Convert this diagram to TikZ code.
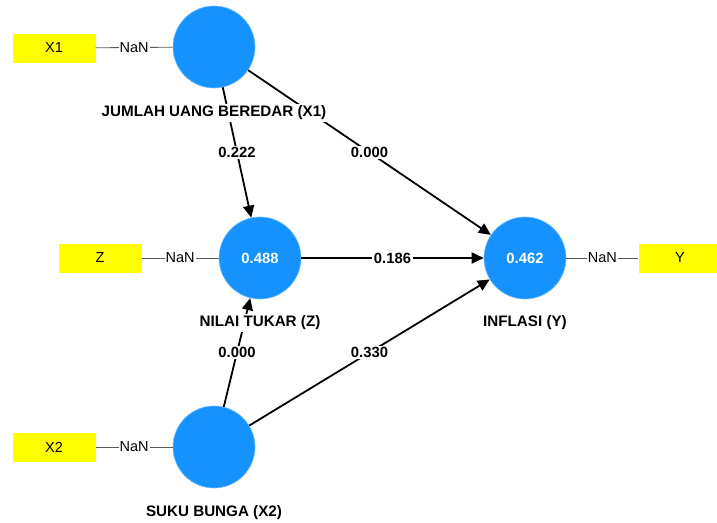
\documentclass[tikz,border=0pt]{standalone}
\usepackage{fontspec}
\setmainfont{Liberation Sans}
\usetikzlibrary{arrows.meta}
\definecolor{latblue}{RGB}{22,146,255}
\definecolor{indyel}{RGB}{255,255,0}
\definecolor{mline}{RGB}{90,90,90}
\begin{document}
\begin{tikzpicture}[x=1pt,y=-1pt,
  latent/.style={circle,fill=latblue,draw=latblue!60!white,line width=0.6pt,minimum size=82pt,inner sep=0pt,text=white,font=\bfseries\fontsize{14.8}{17}\selectfont},
  indic/.style={rectangle,fill=indyel,minimum width=83pt,minimum height=29pt,inner sep=0pt,font=\fontsize{14.5}{17}\selectfont},
  lvname/.style={fill=white,inner sep=1.5pt,font=\bfseries\fontsize{15.2}{17}\selectfont},
  path/.style={line width=1.8pt,-{Triangle[length=12pt,width=11pt]}},
  coef/.style={fill=white,inner sep=1.5pt,font=\bfseries\fontsize{14.8}{17}\selectfont},
  meas/.style={draw=mline,line width=0.8pt},
  nan/.style={fill=white,inner sep=1pt,font=\fontsize{14.5}{17}\selectfont}]
\useasboundingbox (0,0) rectangle (717,522);
\node[latent] (x1) at (214,47) {};
\node[latent] (z) at (260,258) {0.488};
\node[latent] (y) at (525,258) {0.462};
\node[latent] (x2) at (214,447) {};
\node[indic] (r1) at (54,48) {X1};
\node[indic] (rz) at (100,258) {Z};
\node[indic] (ry) at (680,258) {Y};
\node[indic] (r2) at (54,447) {X2};
\draw[meas] (r1) -- node[nan]{NaN} (x1);
\draw[meas] (rz) -- node[nan]{NaN} (z);
\draw[meas] (y) -- node[nan]{NaN} (ry);
\draw[meas] (r2) -- node[nan]{NaN} (x2);
\draw[path] (x1) -- node[coef]{0.222} (z);
\draw[path] (x1) -- node[coef]{0.000} (y);
\draw[path] (z) -- node[coef]{0.186} (y);
\draw[path] (x2) -- node[coef]{0.330} (y);
\draw[path] (x2) -- node[coef]{0.000} (z);
\node[lvname] (nx1) at (214,113) {JUMLAH UANG BEREDAR (X1)};
\node[lvname] (nz) at (260,323) {NILAI TUKAR (Z)};
\node[lvname] (ny) at (525,323) {INFLASI (Y)};
\node[lvname] (nx2) at (214,513) {SUKU BUNGA (X2)};
\end{tikzpicture}
\end{document}
